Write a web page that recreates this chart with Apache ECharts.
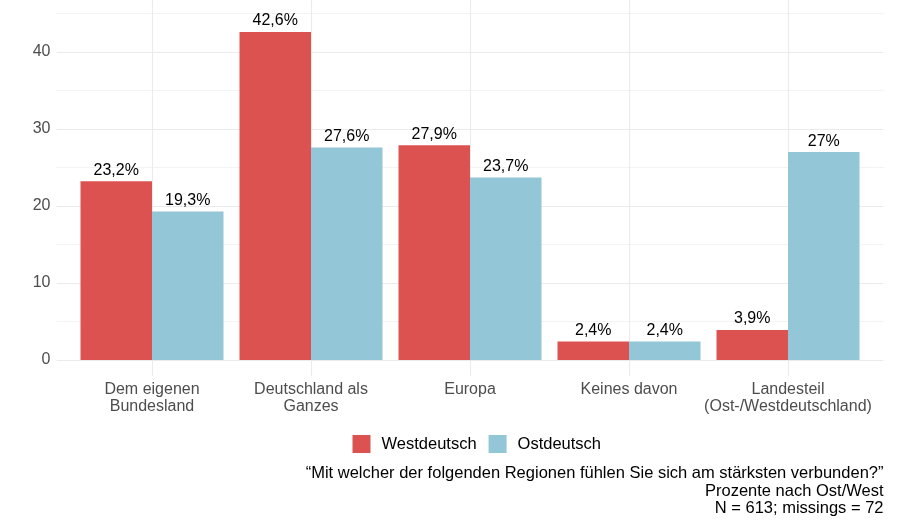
<!DOCTYPE html>
<html>
<head>
<meta charset="utf-8">
<script src="https://cdn.jsdelivr.net/npm/echarts@6/dist/echarts.min.js"></script>
<style>html,body{margin:0;padding:0;background:#fff}#c{width:903px;height:531px}</style>
</head>
<body>
<div id="c"></div>
<script>
const categories = ["Dem eigenen\nBundesland", "Deutschland als\nGanzes", "Europa", "Keines davon", "Landesteil\n(Ost-/Westdeutschland)"];
const seriesNames = ["Westdeutsch", "Ostdeutsch"];
const west = [23.2, 42.6, 27.9, 2.4, 3.9];
const east = [19.3, 27.6, 23.7, 2.4, 27.0];
const majorTicks = [0, 10, 20, 30, 40];
const minorTicks = [5, 15, 25, 35, 45];
const captionLines = ["\u201cMit welcher der folgenden Regionen f\u00fchlen Sie sich am st\u00e4rksten verbunden?\u201d", "Prozente nach Ost/West", "N = 613; missings = 72"];

const FONT = "Liberation Sans";
const chart = echarts.init(document.getElementById('c'), null, {renderer: 'canvas'});
const fmt = v => String(v).replace('.', ',') + '%';

const gridLines = [];
minorTicks.forEach(v => gridLines.push({yAxis: v, lineStyle: {color: '#f3f3f3', width: 1, type: 'solid'}}));
majorTicks.forEach(v => gridLines.push({yAxis: v, lineStyle: {color: '#ebebeb', width: 1.1, type: 'solid'}}));
categories.forEach((c, i) => gridLines.push({xAxis: i + 1, lineStyle: {color: '#ebebeb', width: 1.1, type: 'solid'}}));

chart.setOption({
  animation: false,
  backgroundColor: '#ffffff',
  textStyle: {fontFamily: FONT},
  grid: [
    {left: 56.6, right: 19.6, top: 0, bottom: 155},
    {left: 72.5, width: 795, top: 13.5, bottom: 171}
  ],
  xAxis: [
    {gridIndex: 0, type: 'value', min: 0.4, max: 5.6, show: false, splitLine: {show: false}},
    {gridIndex: 1, type: 'category', data: categories,
     axisLine: {show: false}, axisTick: {show: false}, splitLine: {show: false},
     axisLabel: {color: '#4d4d4d', fontSize: 16, lineHeight: 17, margin: 21.5, fontFamily: FONT, interval: 0}}
  ],
  yAxis: [
    {gridIndex: 0, type: 'value', min: -2.08, max: 46.75, show: false, splitLine: {show: false}},
    {gridIndex: 1, type: 'value', min: 0, max: 45, interval: 5,
     axisLine: {show: false}, axisTick: {show: false}, splitLine: {show: false},
     axisLabel: {color: '#4d4d4d', fontSize: 16, margin: 22, fontFamily: FONT,
       formatter: v => (majorTicks.indexOf(v) >= 0 ? String(v) : '')}}
  ],
  legend: {
    data: seriesNames,
    left: 352.5, top: 435, padding: 0,
    itemWidth: 18, itemHeight: 18, itemGap: 12,
    icon: 'rect',
    textStyle: {fontSize: 16.5, color: '#000', fontFamily: FONT, padding: [2, 0, 0, 6]}
  },
  graphic: captionLines.map((t, i) => ({
    type: 'text', right: 19.5, top: 465 + i * 17.6,
    style: {text: t, fontSize: 16.5, fill: '#000', fontFamily: FONT}
  })),
  series: [
    {type: 'line', xAxisIndex: 0, yAxisIndex: 0, data: [], silent: true, z: 0,
     markLine: {z: 0, silent: true, symbol: ['none', 'none'], label: {show: false}, animation: false, data: gridLines}},
    {name: seriesNames[0], type: 'bar', xAxisIndex: 1, yAxisIndex: 1, data: west, z: 3,
     barWidth: 71.5, barGap: '0%', itemStyle: {color: '#db5250'},
     label: {show: true, position: 'top', distance: 3, color: '#000', fontSize: 16, fontFamily: FONT, formatter: p => fmt(p.value)}},
    {name: seriesNames[1], type: 'bar', xAxisIndex: 1, yAxisIndex: 1, data: east, z: 3,
     barWidth: 71.5, barGap: '0%', itemStyle: {color: '#93c6d6'},
     label: {show: true, position: 'top', distance: 3, color: '#000', fontSize: 16, fontFamily: FONT, formatter: p => fmt(p.value)}}
  ]
});
</script>
</body>
</html>
